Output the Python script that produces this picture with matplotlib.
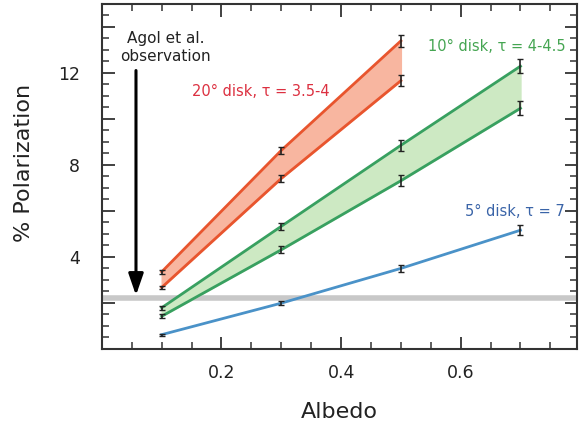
from matplotlib import pyplot as plt
from matplotlib.ticker import MultipleLocator

# albedo values
albedo_20 = [0.1, 0.3, 0.5]
albedo_10 = [0.1, 0.3, 0.5, 0.7]
albedo_5 = [0.1, 0.3, 0.5, 0.7]

# % polarization
pol_20_hi = [3.35, 8.63, 13.39]
pol_20_lo = [2.67, 7.41, 11.66]
err_20 = [0.08, 0.15, 0.25]
pol_10_hi = [1.79, 5.33, 8.85, 12.29]
pol_10_lo = [1.42, 4.31, 7.31, 10.46]
err_10 = [0.08, 0.15, 0.25, 0.3]
pol_5 = [0.62, 1.99, 3.50, 5.16]
err_5 = [0.05, 0.08, 0.15, 0.22]

agol_obs = 2.23

plt.figure(figsize=(5.79, 4.25), dpi=100)
ax = plt.axes([0.176, 0.179, 0.821, 0.812])

# observed level
ax.axhline(agol_obs, color='#c8c8c8', linewidth=4, zorder=1)

# 20 deg disk
ax.fill_between(albedo_20, pol_20_lo, pol_20_hi, color='#f8b6a0', zorder=2)
ax.plot(albedo_20, pol_20_hi, color='#e8552e', linewidth=2, zorder=3)
ax.plot(albedo_20, pol_20_lo, color='#e8552e', linewidth=2, zorder=3)
ax.errorbar(albedo_20, pol_20_hi, yerr=err_20, fmt='none', ecolor='#222222', elinewidth=1.2, capsize=2.5, zorder=4)
ax.errorbar(albedo_20, pol_20_lo, yerr=err_20, fmt='none', ecolor='#222222', elinewidth=1.2, capsize=2.5, zorder=4)

# 10 deg disk
ax.fill_between(albedo_10, pol_10_lo, pol_10_hi, color='#cde9c3', zorder=2)
ax.plot(albedo_10, pol_10_hi, color='#38a060', linewidth=2, zorder=3)
ax.plot(albedo_10, pol_10_lo, color='#38a060', linewidth=2, zorder=3)
ax.errorbar(albedo_10, pol_10_hi, yerr=err_10, fmt='none', ecolor='#222222', elinewidth=1.2, capsize=2.5, zorder=4)
ax.errorbar(albedo_10, pol_10_lo, yerr=err_10, fmt='none', ecolor='#222222', elinewidth=1.2, capsize=2.5, zorder=4)

# 5 deg disk
ax.plot(albedo_5, pol_5, color='#4a92c8', linewidth=2, zorder=3)
ax.errorbar(albedo_5, pol_5, yerr=err_5, fmt='none', ecolor='#222222', elinewidth=1.2, capsize=2.5, zorder=4)

# labels
ax.text(0.265, 11.2, '20° disk, τ = 3.5-4', color='#dc3040', fontsize=10.5, ha='center', va='center')
ax.text(0.66, 13.13, '10° disk, τ = 4-4.5', color='#45a552', fontsize=10.5, ha='center', va='center')
ax.text(0.69, 5.98, '5° disk, τ = 7', color='#3a64a8', fontsize=10.5, ha='center', va='center')
ax.text(0.106, 13.1, 'Agol et al.\nobservation', color='#222222', fontsize=11, ha='center', va='center',
        linespacing=1.2)
ax.annotate('', xy=(0.057, agol_obs + 0.1), xytext=(0.057, 12.1),
            arrowprops=dict(arrowstyle='-|>,head_width=0.45,head_length=1.3', color='black', linewidth=2.2,
                            shrinkA=0, shrinkB=0))

ax.set_xlim(0, 0.795)
ax.set_ylim(0, 15)
ax.xaxis.set_minor_locator(MultipleLocator(0.05))
ax.yaxis.set_minor_locator(MultipleLocator(0.5))
ax.set_xticks([0.2, 0.4, 0.6])
ax.set_xticklabels(['0.2', '0.4', '0.6'])
ax.set_yticks([2, 4, 6, 8, 10, 12, 14])
ax.set_yticklabels(['', '4', '', '8', '', '12', ''])
ax.tick_params(which='both', direction='in', top=True, right=True, colors='#333333', labelcolor='#222222')
ax.tick_params(which='major', length=9, width=1.3, labelsize=12.5)
ax.tick_params(which='minor', length=5, width=1.1)
ax.tick_params(axis='x', which='major', pad=11)
ax.tick_params(axis='y', which='major', pad=16)
for sp in ax.spines.values():
    sp.set_linewidth(1.5)
    sp.set_color('#333333')

ax.set_xlabel('Albedo', fontsize=16, labelpad=14, color='#222222')
ax.set_ylabel('% Polarization', fontsize=16, color='#222222')
ax.yaxis.set_label_coords(-0.143, 0.539)

plt.savefig('out.png', dpi=100)
